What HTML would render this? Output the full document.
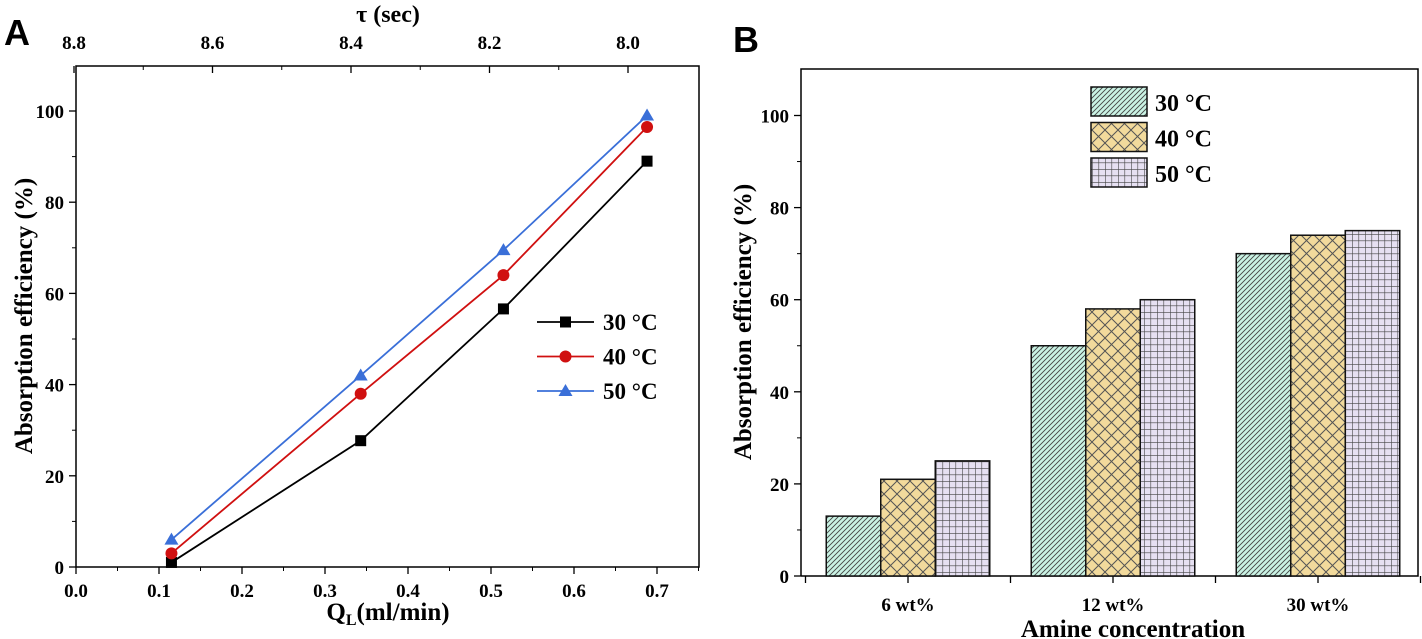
<!DOCTYPE html>
<html><head><meta charset="utf-8"><style>
html,body{margin:0;padding:0;background:#fff;}
svg{display:block;font-family:"Liberation Serif",serif;font-weight:bold;}
</style></head><body>
<svg id="c" width="1422" height="639" viewBox="0 0 1422 639" xmlns="http://www.w3.org/2000/svg">
<defs>
<pattern id="hatchDiag" width="5" height="5" patternUnits="userSpaceOnUse">
<rect width="5" height="5" fill="#c9f3e4"/><path d="M-1,6 L6,-1 M-1,1 L1,-1 M4,6 L6,4" stroke="#444" stroke-width="0.9"/></pattern>
<pattern id="hatchCross" width="13" height="13" patternUnits="userSpaceOnUse">
<rect width="13" height="13" fill="#f2da9c"/><path d="M0,0 L13,13 M13,0 L0,13" stroke="#555" stroke-width="1"/></pattern>
<pattern id="hatchGrid" width="6.5" height="6.5" patternUnits="userSpaceOnUse">
<rect width="6.5" height="6.5" fill="#e6e0f2"/><path d="M0,0 H6.5 M0,0 V6.5" stroke="#444" stroke-width="1.2"/></pattern>
</defs>
<text x="4" y="45" font-family="Liberation Sans,sans-serif" font-size="36" font-weight="bold">A</text>
<text x="733" y="52" font-family="Liberation Sans,sans-serif" font-size="36" font-weight="bold">B</text>
<g id="A"></g>
<g id="B"></g>
</svg>
<script>
// Panel A data
const qlValues = [0.115, 0.343, 0.515, 0.688];
const series30 = [1, 27.7, 56.6, 89];
const series40 = [3, 38, 64, 96.5];
const series50 = [6, 42, 69.5, 99];
const xTicksA = [0.0, 0.1, 0.2, 0.3, 0.4, 0.5, 0.6, 0.7];
const yTicks = [0, 20, 40, 60, 80, 100];
const tauTicks = [8.8, 8.6, 8.4, 8.2, 8.0];
const legendLabels = ["30 °C", "40 °C", "50 °C"];
// Panel B data
const categories = ["6 wt%", "12 wt%", "30 wt%"];
const bars30 = [13, 50, 70];
const bars40 = [21, 58, 74];
const bars50 = [25, 60, 75];

const NS = "http://www.w3.org/2000/svg";
function mk(parent, tag, attrs, text){
  const e = document.createElementNS(NS, tag);
  for (const k in attrs) e.setAttribute(k, attrs[k]);
  if (text !== undefined) e.textContent = text;
  parent.appendChild(e); return e;
}
// ---------- Panel A ----------
const A = document.getElementById('A');
const aL=76, aR=699, aT=66, aB=567;
const xA = v => aL + v/0.1*83;
const yA = v => aB - v*4.56;
function tauX(t){ return 628 - (t - 8.0)/0.2*138.5; }
let fr = mk(A,'rect',{x:aL,y:aT,width:aR-aL,height:aB-aT,fill:'none',stroke:'#000','stroke-width':1.5});
 
xTicksA.forEach(v=>{
  mk(A,'line',{x1:xA(v),x2:xA(v),y1:aB,y2:aB+7,stroke:'#000','stroke-width':1.3});
  const t = mk(A,'text',{x:xA(v),y:aB+30,'text-anchor':'middle','font-size':19},v.toFixed(1));
   
});
for(let v=0.05; v<0.75; v+=0.1) mk(A,'line',{x1:xA(v),x2:xA(v),y1:aB,y2:aB+4,stroke:'#000','stroke-width':1});
yTicks.forEach(v=>{
  mk(A,'line',{x1:aL-7,x2:aL,y1:yA(v),y2:yA(v),stroke:'#000','stroke-width':1.3});
  const t = mk(A,'text',{x:aL-12,y:yA(v)+7,'text-anchor':'end','font-size':19},v);
   
});
for(let v=10; v<110; v+=20) mk(A,'line',{x1:aL-4,x2:aL,y1:yA(v),y2:yA(v),stroke:'#000','stroke-width':1});
tauTicks.forEach(v=>{
  mk(A,'line',{x1:tauX(v),x2:tauX(v),y1:aT,y2:aT+7,stroke:'#000','stroke-width':1.3});
  const t = mk(A,'text',{x:tauX(v),y:aT-17,'text-anchor':'middle','font-size':19},v.toFixed(1));
   
});
for(let v=8.7; v>7.95; v-=0.2) mk(A,'line',{x1:tauX(v),x2:tauX(v),y1:aT,y2:aT+4,stroke:'#000','stroke-width':1});
let tt = mk(A,'text',{x:388,y:22,'text-anchor':'middle','font-size':24},'τ (sec)');
 
let xt = mk(A,'text',{x:388,y:620,'text-anchor':'middle','font-size':25});
 
mk(xt,'tspan',{},'Q');mk(xt,'tspan',{dy:5,'font-size':16},'L');mk(xt,'tspan',{dy:-5},'(ml/min)');
let yt = mk(A,'text',{x:0,y:0,'text-anchor':'middle','font-size':25,transform:'translate(32,316) rotate(-90)'},'Absorption efficiency (%)');
 

const sets = [[series30,'#000','sq'],[series40,'#d01010','ci'],[series50,'#3a6fd8','tr']];
function marker(g,x,y,type,color){
  let m;
  if(type==='sq') m=mk(g,'rect',{x:x-5.5,y:y-5.5,width:11,height:11,fill:color});
  else if(type==='ci') m=mk(g,'circle',{cx:x,cy:y,r:6,fill:color});
  else m=mk(g,'polygon',{points:`${x},${y-7} ${x-7},${y+5} ${x+7},${y+5}`,fill:color});
  return m;
}
sets.forEach((s,i)=>{
  const g = mk(A,'g',{});
   
  mk(g,'polyline',{points:qlValues.map((q,j)=>xA(q)+','+yA(s[0][j])).join(' '),fill:'none',stroke:s[1],'stroke-width':1.8});
  qlValues.forEach((q,j)=>{
    const m = marker(g,xA(q),yA(s[0][j]),s[2],s[1]);
     
  });
  const ly = 322 + i*34.5;
  const lg = mk(A,'g',{});
   
  mk(lg,'line',{x1:537,x2:594,y1:ly,y2:ly,stroke:s[1],'stroke-width':1.8});
  marker(lg,565.5,ly,s[2],s[1]);
  mk(lg,'text',{x:603,y:ly+8,'font-size':23},legendLabels[i]);
});

// ---------- Panel B ----------
const B = document.getElementById('B');
const bL=801, bR=1418, bT=69, bB=576;
const yB = v => bB - v*4.605;
const catX = i => 908 + i*205;
const bw = 54.5;
let fb = mk(B,'path',{d:`M${bL},${bB} V${bT} H${bR} V${bB} H${bL}`,fill:'none',stroke:'#000','stroke-width':1.5});
 
yTicks.forEach(v=>{
  mk(B,'line',{x1:bL-7,x2:bL,y1:yB(v),y2:yB(v),stroke:'#000','stroke-width':1.3});
  const t = mk(B,'text',{x:bL-12,y:yB(v)+7,'text-anchor':'end','font-size':19},v);
   
});
for(let v=10; v<110; v+=20) mk(B,'line',{x1:bL-4,x2:bL,y1:yB(v),y2:yB(v),stroke:'#000','stroke-width':1});
const fills = ['url(#hatchDiag)','url(#hatchCross)','url(#hatchGrid)'];
const barSets = [bars30,bars40,bars50];
categories.forEach((c,i)=>{
  mk(B,'line',{x1:catX(i),x2:catX(i),y1:bB,y2:bB+7,stroke:'#000','stroke-width':1.3});
  mk(B,'line',{x1:catX(i)+102.5,x2:catX(i)+102.5,y1:bB,y2:bB+7,stroke:'#000','stroke-width':1.3});
  const t = mk(B,'text',{x:catX(i),y:bB+35,'text-anchor':'middle','font-size':19},c);
   
  barSets.forEach((s,k)=>{
    const x = catX(i) + (k-1)*bw - bw/2;
    const r = mk(B,'rect',{x:x,y:yB(s[i]),width:bw,height:bB-yB(s[i]),fill:fills[k],stroke:'#111','stroke-width':1.5});
     
  });
});
mk(B,'line',{x1:catX(0)-102.5,x2:catX(0)-102.5,y1:bB,y2:bB+7,stroke:'#000','stroke-width':1.3});
legendLabels.forEach((l,k)=>{
  const y0 = 87 + k*35.5;
  const g = mk(B,'g',{});
   
  mk(g,'rect',{x:1091,y:y0,width:56,height:29,fill:fills[k],stroke:'#111','stroke-width':1.5});
  mk(g,'text',{x:1155,y:y0+24,'font-size':24},l);
});
let bx = mk(B,'text',{x:1133,y:637,'text-anchor':'middle','font-size':25},'Amine concentration');
 
let by = mk(B,'text',{x:0,y:0,'text-anchor':'middle','font-size':25,transform:'translate(751,322) rotate(-90)'},'Absorption efficiency (%)');
 
</script>
</body></html>
